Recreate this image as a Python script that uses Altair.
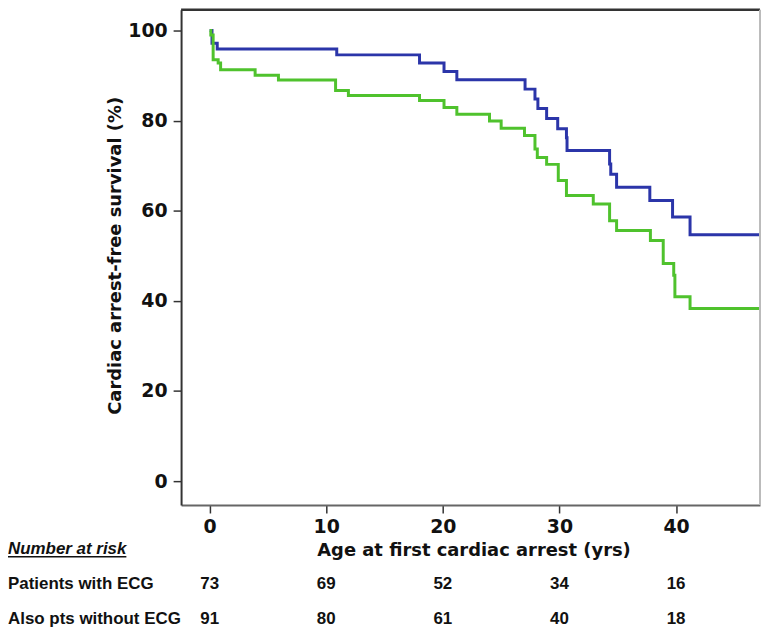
import altair as alt
import pandas as pd

# Kaplan-Meier steps
ecg_t = [0, 0.2, 0.65, 10.9, 18.0, 20.1, 21.2, 27.05, 27.9, 28.15, 28.9, 29.85, 30.6, 30.65,
         34.3, 34.4, 34.9, 37.75, 39.7, 41.2, 47.5]
ecg_s = [100, 97.2, 95.9, 94.6, 92.8, 90.9, 89.1, 87.0, 84.8, 82.7, 80.5, 78.2, 76.2, 73.4,
         70.4, 68.1, 65.2, 62.3, 58.6, 54.7, 54.7]
all_t = [0, 0.1, 0.3, 0.73, 0.94, 3.9, 5.9, 10.8, 11.9, 18.0, 20.1, 21.2, 24.0, 25.0,
         27.0, 27.9, 28.1, 28.9, 29.9, 30.6, 32.9, 34.3, 34.9, 37.8, 38.9, 39.8, 39.9, 41.2, 47.5]
all_s = [100, 99.0, 93.5, 92.8, 91.3, 90.1, 89.0, 86.7, 85.6, 84.5, 82.9, 81.4, 79.9, 78.3,
         76.7, 73.7, 71.8, 70.3, 66.7, 63.4, 61.5, 57.8, 55.6, 53.4, 48.3, 45.7, 40.9, 38.3, 38.3]

risk_times = [0, 10, 20, 30, 40]
risk_ecg = [73, 69, 52, 34, 16]
risk_all = [91, 80, 61, 40, 18]
row_labels = ["Patients with ECG", "Also pts without ECG"]

W, H = 582, 498
BLUE, GREEN = "#2b35a9", "#4fc22d"

curves = pd.concat([
    pd.DataFrame({"t": ecg_t, "s": ecg_s, "g": "ecg", "o": range(len(ecg_t))}),
    pd.DataFrame({"t": all_t, "s": all_s, "g": "all", "o": range(len(all_t))}),
])

xscale = alt.Scale(domain=[-2.45, 47.2], nice=False, zero=False)
yscale = alt.Scale(domain=[-5.3, 104.64], nice=False, zero=False)

lines = alt.Chart(curves).mark_line(interpolate="step-after", strokeWidth=3, clip=True).encode(
    x=alt.X("t:Q", scale=xscale, axis=alt.Axis(
        values=[0, 10, 20, 30, 40], title="Age at first cardiac arrest (yrs)", grid=False,
        tickSize=8, tickWidth=1.5, tickColor="#333", domainColor="#666", domainWidth=2,
        labelFont="DejaVu Sans", labelFontSize=19, labelFontWeight="bold", labelColor="#111",
        labelPadding=5, titleFont="DejaVu Sans", titleFontSize=18, titleFontWeight="bold",
        titleColor="#111", titleBaseline="alphabetic", titleAlign="center", titleX=294, titleY=51)),
    y=alt.Y("s:Q", scale=yscale, axis=alt.Axis(
        values=[0, 20, 40, 60, 80, 100], title="Cardiac arrest-free survival (%)", grid=False,
        tickSize=8, tickWidth=1.5, tickColor="#333", domainColor="#333", domainWidth=2,
        labelFont="DejaVu Sans", labelFontSize=19, labelFontWeight="bold", labelColor="#111",
        labelPadding=6, titleFont="DejaVu Sans", titleFontSize=18, titleFontWeight="bold",
        titleColor="#111", titleAngle=270, titleAlign="center", titleBaseline="middle",
        titleX=-66, titleY=247)),
    color=alt.Color("g:N", scale=alt.Scale(domain=["ecg", "all"], range=[BLUE, GREEN]), legend=None),
    order="o:Q",
)

frame_df = pd.DataFrame({"k": [0]})
top_rule = alt.Chart(frame_df).mark_rule(color="#333", strokeWidth=2.5).encode(
    x=alt.value(0), x2=alt.value(W), y=alt.value(0))
right_rule = alt.Chart(frame_df).mark_rule(color="#bbb", strokeWidth=2).encode(
    x=alt.value(W), y=alt.value(0), y2=alt.value(H))

risk = pd.DataFrame({"t": risk_times, "ecg": risk_ecg, "all": risk_all})
txt = dict(font="Liberation Sans", fontSize=17, fontWeight="bold", color="#111", baseline="alphabetic")

num_ecg = alt.Chart(risk).mark_text(align="center", **txt).encode(
    x=alt.X("t:Q", scale=xscale), y=alt.value(582), text="ecg:Q")
num_all = alt.Chart(risk).mark_text(align="center", **txt).encode(
    x=alt.X("t:Q", scale=xscale), y=alt.value(617.5), text="all:Q")

lab1 = alt.Chart(pd.DataFrame({"l": [row_labels[0]]})).mark_text(align="left", **txt).encode(
    x=alt.value(-174), y=alt.value(582), text="l:N")
lab2 = alt.Chart(pd.DataFrame({"l": [row_labels[1]]})).mark_text(align="left", **txt).encode(
    x=alt.value(-174), y=alt.value(617.5), text="l:N")
head = alt.Chart(pd.DataFrame({"l": ["Number at risk"]})).mark_text(
    align="left", fontStyle="italic", **txt).encode(
    x=alt.value(-174), y=alt.value(547.7), text="l:N")
underline = alt.Chart(frame_df).mark_rule(color="#111", strokeWidth=1.5).encode(
    x=alt.value(-174), x2=alt.value(-55), y=alt.value(550))

chart = alt.layer(lines, top_rule, right_rule, num_ecg, num_all, lab1, lab2, head, underline).properties(
    width=W, height=H,
    autosize=alt.AutoSizeParams(type="none"),
    padding={"left": 174, "top": 0, "right": 2, "bottom": 124},
    background="white",
).configure_view(stroke="transparent")

chart.save("out.html", embed_options={"renderer": "svg", "actions": False})
